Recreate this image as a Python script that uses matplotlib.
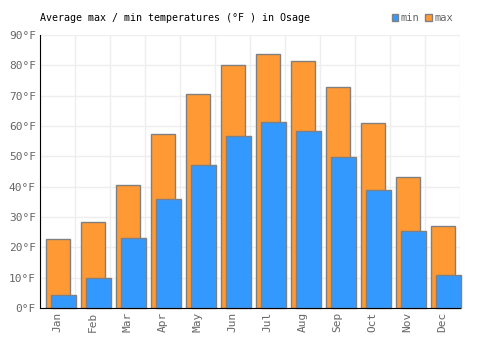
import matplotlib
matplotlib.use("Agg")
import matplotlib.pyplot as plt
import numpy as np
from matplotlib.patches import Rectangle

months = ["Jan", "Feb", "Mar", "Apr", "May", "Jun", "Jul", "Aug", "Sep", "Oct", "Nov", "Dec"]
max_temps = [22.6, 28.2, 40.4, 57.3, 70.4, 80.0, 83.6, 81.3, 72.8, 60.9, 43.1, 26.9]
min_temps = [4.2, 9.8, 23.0, 35.9, 47.0, 56.6, 61.2, 58.3, 49.7, 38.8, 25.3, 10.8]
yticks = [0, 10, 20, 30, 40, 50, 60, 70, 80, 90]

plt.rcParams['font.family'] = ['DejaVu Sans Mono']

fig = plt.figure(figsize=(5, 3.5), dpi=100)
ax = fig.add_axes([0.08, 0.12, 0.84, 0.78])

x = np.arange(len(months))
edge = "#808080"
ax.bar(x + 6/35, max_temps, width=23.7/35, align="edge", color="#ff9933",
       edgecolor=edge, linewidth=1, zorder=3, label="max")
ax.bar(x + 11/35, min_temps, width=24.7/35, align="edge", color="#3399ff",
       edgecolor=edge, linewidth=1, zorder=4, label="min", clip_on=False)

ax.set_xlim(0, 12)
ax.set_ylim(0, 90)
ax.set_xticks(np.arange(13), minor=False)
ax.set_xticklabels([])
ax.set_xticks(x + 0.5, minor=True)
ax.set_xticklabels(months, minor=True, rotation=90, color="#666666", fontsize=8)
ax.set_yticks(yticks)
ax.set_yticklabels([f"{v}°F" for v in yticks], color="#666666", fontsize=8)
ax.tick_params(axis="both", which="both", length=0, pad=3)
ax.grid(True, which="major", color="#eeeeee", linewidth=1, zorder=0)
for s in ["top", "right"]:
    ax.spines[s].set_visible(False)
ax.spines["left"].set_color("black")
ax.spines["bottom"].set_color("black")
ax.spines["left"].set_zorder(5)
ax.spines["bottom"].set_zorder(5)

fig.text(0.08, 1 - 18/350, "Average max / min temperatures (°F ) in Osage",
         fontsize=7.2, color="black", ha="left", va="center")

handles = [Rectangle((0, 0), 1, 1, facecolor="#3399ff", edgecolor=edge),
           Rectangle((0, 0), 1, 1, facecolor="#ff9933", edgecolor=edge)]
leg = fig.legend(handles, ["min", "max"], loc="center right",
                 bbox_to_anchor=(0.906, 1 - 18/350),
                 ncol=2, frameon=False, fontsize=7.5, handlelength=0.65, handleheight=0.65,
                 handletextpad=0.25, columnspacing=0.5, borderpad=0, borderaxespad=0)
for t in leg.get_texts():
    t.set_color("#666666")

fig.savefig("out.png", dpi=100)
